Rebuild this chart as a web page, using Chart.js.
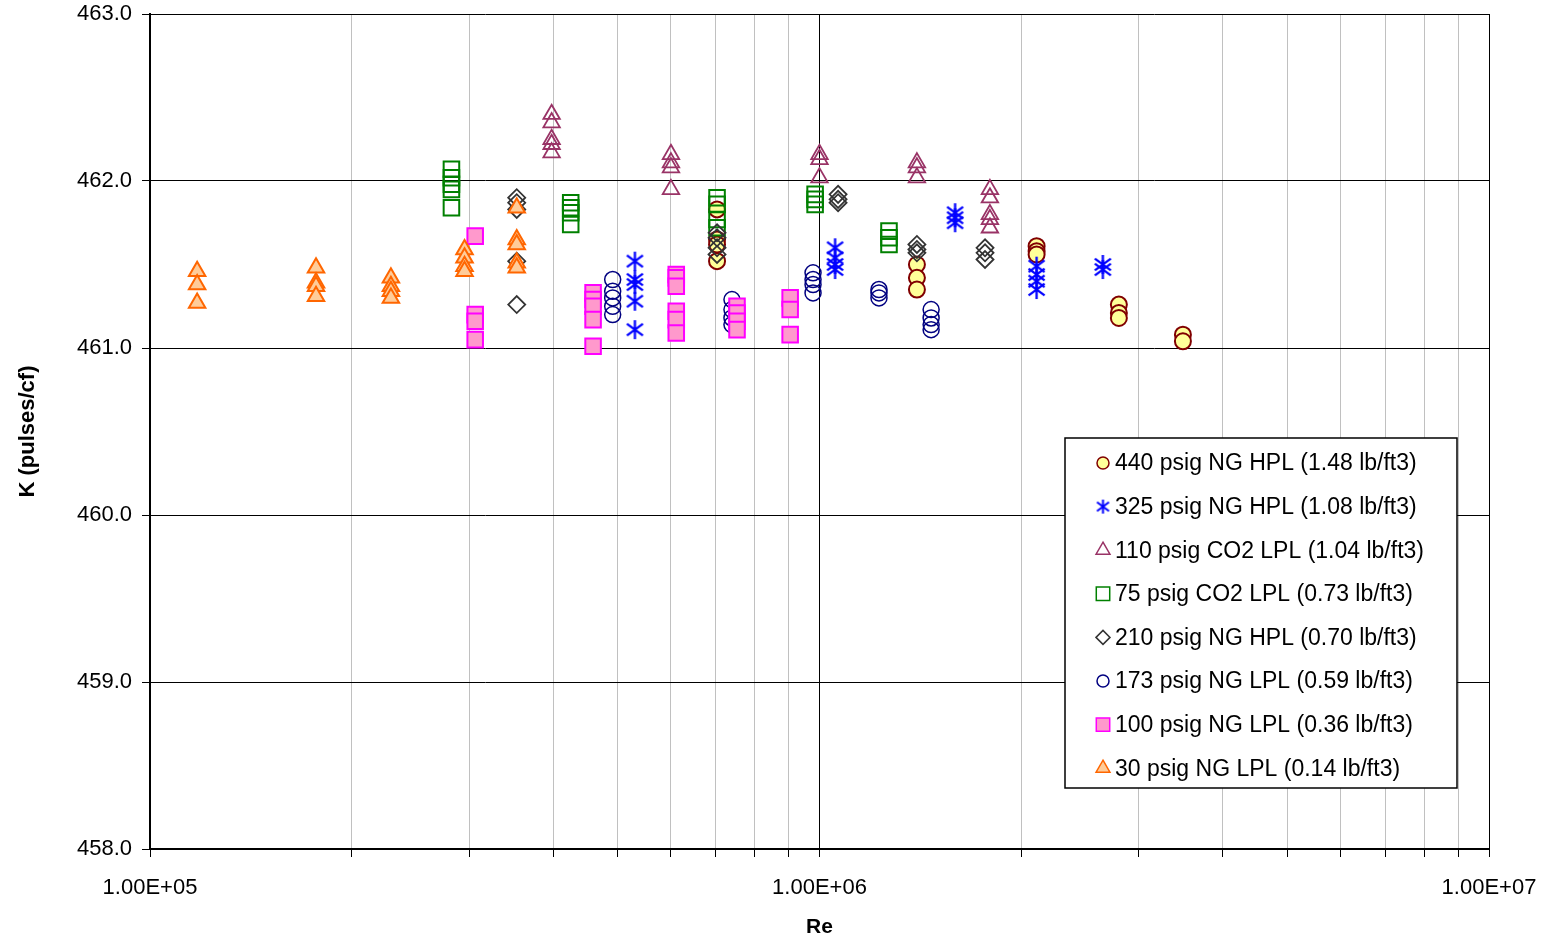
<!DOCTYPE html>
<html>
<head>
<meta charset="utf-8">
<title>K vs Re</title>
<script src="https://cdn.jsdelivr.net/npm/chart.js@4.4.1/dist/chart.umd.min.js"></script>
<style>
  html, body { margin: 0; padding: 0; background: #fff; }
  #wrap { width: 1548px; height: 940px; }
</style>
</head>
<body>
<div id="wrap"><canvas id="chart" width="1548" height="940"></canvas></div>
<script>
// each series: Re of every column of points, and the K readings in that column
const re440 = [7.03e5, 1.398e6, 2.11e6, 2.80e6, 3.49e6];
const k440 = [
  [461.83, 461.65, 461.62, 461.52],
  [461.50, 461.42, 461.35],
  [461.61, 461.58, 461.56],
  [461.26, 461.21, 461.18],
  [461.08, 461.04]
];

const re325 = [5.30e5, 1.055e6, 1.594e6, 2.11e6, 2.65e6];
const k325 = [
  [461.52, 461.41, 461.38, 461.28, 461.11],
  [461.60, 461.54, 461.50, 461.47],
  [461.81, 461.78, 461.75],
  [461.49, 461.44, 461.40, 461.35],
  [461.50, 461.47]
];

const re110 = [3.98e5, 6.0e5, 1.0e6, 1.398e6, 1.797e6];
const k110 = [
  [462.40, 462.35, 462.25, 462.22, 462.17],
  [462.16, 462.11, 462.08, 461.95],
  [462.16, 462.13, 462.02],
  [462.11, 462.08, 462.02],
  [461.95, 461.90, 461.80, 461.77, 461.72]
];

const re75 = [2.82e5, 4.25e5, 7.03e5, 9.85e5, 1.27e6];
const k75 = [
  [462.07, 462.02, 461.98, 461.95, 461.84],
  [461.87, 461.84, 461.81, 461.74],
  [461.90, 461.86, 461.77, 461.72],
  [461.92, 461.89, 461.86],
  [461.70, 461.66, 461.62]
];

const re210 = [3.53e5, 7.03e5, 1.066e6, 1.398e6, 1.767e6];
const k210 = [
  [461.90, 461.87, 461.83, 461.52, 461.26],
  [461.69, 461.66, 461.60, 461.56],
  [461.92, 461.89, 461.87],
  [461.62, 461.59, 461.57],
  [461.60, 461.57, 461.53]
];

const re173 = [4.91e5, 7.4e5, 9.78e5, 1.227e6, 1.468e6];
const k173 = [
  [461.41, 461.34, 461.30, 461.25, 461.20],
  [461.29, 461.23, 461.18, 461.14],
  [461.45, 461.41, 461.38, 461.33],
  [461.35, 461.33, 461.30],
  [461.23, 461.18, 461.14, 461.11]
];

const re100 = [3.06e5, 4.59e5, 6.11e5, 7.53e5, 9.04e5];
const k100 = [
  [461.67, 461.20, 461.16, 461.05],
  [461.33, 461.29, 461.25, 461.17, 461.01],
  [461.44, 461.42, 461.37, 461.22, 461.17, 461.09],
  [461.25, 461.21, 461.16, 461.11],
  [461.30, 461.23, 461.08]
];

const re30 = [1.176e5, 1.77e5, 2.29e5, 2.95e5, 3.53e5];
const k30 = [
  [461.46, 461.38, 461.27],
  [461.48, 461.39, 461.37, 461.31],
  [461.42, 461.37, 461.34, 461.30],
  [461.59, 461.54, 461.49, 461.46],
  [461.84, 461.65, 461.62, 461.51, 461.48]
];

const seriesLabels = [
  "440 psig NG HPL (1.48 lb/ft3)",
  "325 psig NG HPL (1.08 lb/ft3)",
  "110 psig CO2 LPL (1.04 lb/ft3)",
  "75 psig CO2 LPL (0.73 lb/ft3)",
  "210 psig NG HPL (0.70 lb/ft3)",
  "173 psig NG LPL (0.59 lb/ft3)",
  "100 psig NG LPL (0.36 lb/ft3)",
  "30 psig NG LPL (0.14 lb/ft3)"
];

const xDecades = [1e5, 1e6, 1e7];
const xTickLabels = ["1.00E+05", "1.00E+06", "1.00E+07"];
const yTicks = [458, 459, 460, 461, 462, 463];

const FONT = "'Liberation Sans', Arial, sans-serif";
const NONE = "rgba(0,0,0,0)";

// excel style asterisk (vertical bar + X)
function asterisk(w, h, color, lw) {
  const c = document.createElement("canvas");
  c.width = w; c.height = h;
  const g = c.getContext("2d");
  g.strokeStyle = color;
  g.lineWidth = lw;
  g.beginPath();
  g.moveTo(w / 2, 1); g.lineTo(w / 2, h - 1);
  g.moveTo(1.5, h * 0.22); g.lineTo(w - 1.5, h * 0.78);
  g.moveTo(w - 1.5, h * 0.22); g.lineTo(1.5, h * 0.78);
  g.stroke();
  return c;
}

const markers = [
  { shape: "circle",   r: 8,   lr: 6,   fill: "#FFFF99", stroke: "#800000", lw: 2 },
  { shape: "asterisk", r: 9,   lr: 7,   fill: "#0000FF", stroke: "#0000FF", lw: 2 },
  { shape: "triangle", r: 9.5, lr: 8,   fill: NONE,      stroke: "#993366", lw: 1.8 },
  { shape: "rect",     r: 11,  lr: 9.5, fill: NONE,      stroke: "#008000", lw: 2 },
  { shape: "rectRot",  r: 8.5, lr: 7,   fill: NONE,      stroke: "#333333", lw: 1.8 },
  { shape: "circle",   r: 8,   lr: 6,   fill: NONE,      stroke: "#000080", lw: 1.5 },
  { shape: "rect",     r: 11,  lr: 9.5, fill: "#FF99CC", stroke: "#FF00FF", lw: 2 },
  { shape: "triangle", r: 9.5, lr: 8,   fill: "#FFCC99", stroke: "#FF6600", lw: 2 }
];

const bigStar = asterisk(19, 21, "#0000FF", 2.3);
const smallStar = asterisk(15, 16, "#0000FF", 2);

function points(reList, kLists) {
  return reList.flatMap((re, i) => kLists[i].map(k => ({ x: re, y: k })));
}

const seriesData = [
  points(re440, k440), points(re325, k325), points(re110, k110), points(re75, k75),
  points(re210, k210), points(re173, k173), points(re100, k100), points(re30, k30)
];

const datasets = seriesLabels.map((label, i) => {
  const m = markers[i];
  return {
    label: label,
    data: seriesData[i],
    order: seriesLabels.length - i, // later series drawn on top, like excel
    showLine: false,
    pointStyle: m.shape === "asterisk" ? bigStar : m.shape,
    pointRadius: m.r,
    pointHoverRadius: m.r,
    pointBackgroundColor: m.fill,
    pointBorderColor: m.stroke,
    pointBorderWidth: m.lw
  };
});

// every 1..9 x decade position for the log grid
const xGridValues = [];
xDecades.forEach((d, i) => {
  if (i === xDecades.length - 1) { xGridValues.push(d); return; }
  for (let m = 1; m < 10; m++) xGridValues.push(m * d);
});

function isDecade(v) {
  const l = Math.log10(v);
  return Math.abs(l - Math.round(l)) < 1e-9;
}

function drawMarker(ctx, m, x, y) {
  if (m.shape === "asterisk") {
    ctx.drawImage(smallStar, x - smallStar.width / 2, y - smallStar.height / 2);
    return;
  }
  const r = m.lr;
  ctx.beginPath();
  if (m.shape === "circle") {
    ctx.arc(x, y, r, 0, Math.PI * 2);
  } else if (m.shape === "triangle") {
    ctx.moveTo(x, y - r);
    ctx.lineTo(x + r * 0.866, y + r * 0.5);
    ctx.lineTo(x - r * 0.866, y + r * 0.5);
    ctx.closePath();
  } else if (m.shape === "rect") {
    const s = r * Math.SQRT1_2;
    ctx.rect(x - s, y - s, 2 * s, 2 * s);
  } else if (m.shape === "rectRot") {
    ctx.moveTo(x - r, y); ctx.lineTo(x, y - r);
    ctx.lineTo(x + r, y); ctx.lineTo(x, y + r);
    ctx.closePath();
  }
  ctx.fillStyle = m.fill;
  ctx.fill();
  ctx.lineWidth = 1.5;
  ctx.strokeStyle = m.stroke;
  ctx.stroke();
}

// boxed legend sitting inside the plot, lower right
const boxLegend = {
  id: "boxLegend",
  afterDraw(chart) {
    const ctx = chart.ctx;
    const box = { left: 1065, top: 438, width: 392, height: 350 };
    const firstRow = 463, rowStep = 43.6, markerX = 1103, textX = 1115;
    ctx.save();
    ctx.fillStyle = "#fff";
    ctx.fillRect(box.left, box.top, box.width, box.height);
    ctx.lineWidth = 1.5;
    ctx.strokeStyle = "#000";
    ctx.strokeRect(box.left, box.top, box.width, box.height);
    ctx.font = "23px " + FONT;
    ctx.textBaseline = "middle";
    ctx.textAlign = "left";
    seriesLabels.forEach((label, i) => {
      const y = firstRow + i * rowStep;
      drawMarker(ctx, markers[i], markerX, y);
      ctx.fillStyle = "#000";
      ctx.fillText(label, textX, y + 1);
    });
    ctx.restore();
  }
};

// keep the plot area exactly where the layout padding puts it
function noLabelOverflow(scale) {
  scale.paddingTop = 0;
  scale.paddingBottom = 0;
  scale.paddingLeft = 0;
  scale.paddingRight = 0;
}

new Chart(document.getElementById("chart"), {
  type: "scatter",
  data: { datasets: datasets },
  plugins: [boxLegend],
  options: {
    responsive: false,
    animation: false,
    events: [],
    layout: { padding: { left: 0, right: 59, top: 14, bottom: 0 } },
    plugins: {
      legend: { display: false },
      tooltip: { enabled: false },
      title: { display: false }
    },
    scales: {
      x: {
        type: "logarithmic",
        min: xDecades[0],
        max: xDecades[xDecades.length - 1],
        afterBuildTicks: (scale) => { scale.ticks = xGridValues.map(v => ({ value: v })); },
        afterFit: (scale) => { scale.height = 91; noLabelOverflow(scale); },
        ticks: {
          autoSkip: false,
          maxRotation: 0,
          padding: 18,
          color: "#000",
          font: { family: FONT, size: 22 },
          callback: (v) => {
            const i = xDecades.indexOf(v);
            return i >= 0 ? xTickLabels[i] : "";
          }
        },
        grid: {
          color: (c) => (c.tick && isDecade(c.tick.value) ? "#000" : "#C0C0C0"),
          tickColor: "#000",
          tickLength: 8,
          lineWidth: 1
        },
        border: { color: "#000", width: 2 },
        title: {
          display: true,
          text: "Re",
          color: "#000",
          font: { family: FONT, size: 21, weight: "bold" },
          padding: { top: 0, bottom: 0 }
        }
      },
      y: {
        min: yTicks[0],
        max: yTicks[yTicks.length - 1],
        afterBuildTicks: (scale) => { scale.ticks = yTicks.map(v => ({ value: v })); },
        afterFit: (scale) => { scale.width = 150; noLabelOverflow(scale); },
        ticks: {
          padding: 10,
          color: "#000",
          font: { family: FONT, size: 22 },
          callback: (v) => Number(v).toFixed(1)
        },
        grid: { color: "#000", tickColor: "#000", tickLength: 8, lineWidth: 1 },
        border: { color: "#000", width: 2 },
        title: {
          display: true,
          text: "K (pulses/cf)",
          color: "#000",
          font: { family: FONT, size: 22, weight: "bold" },
          padding: { top: 15, bottom: 0 }
        }
      }
    }
  }
});
</script>
</body>
</html>
